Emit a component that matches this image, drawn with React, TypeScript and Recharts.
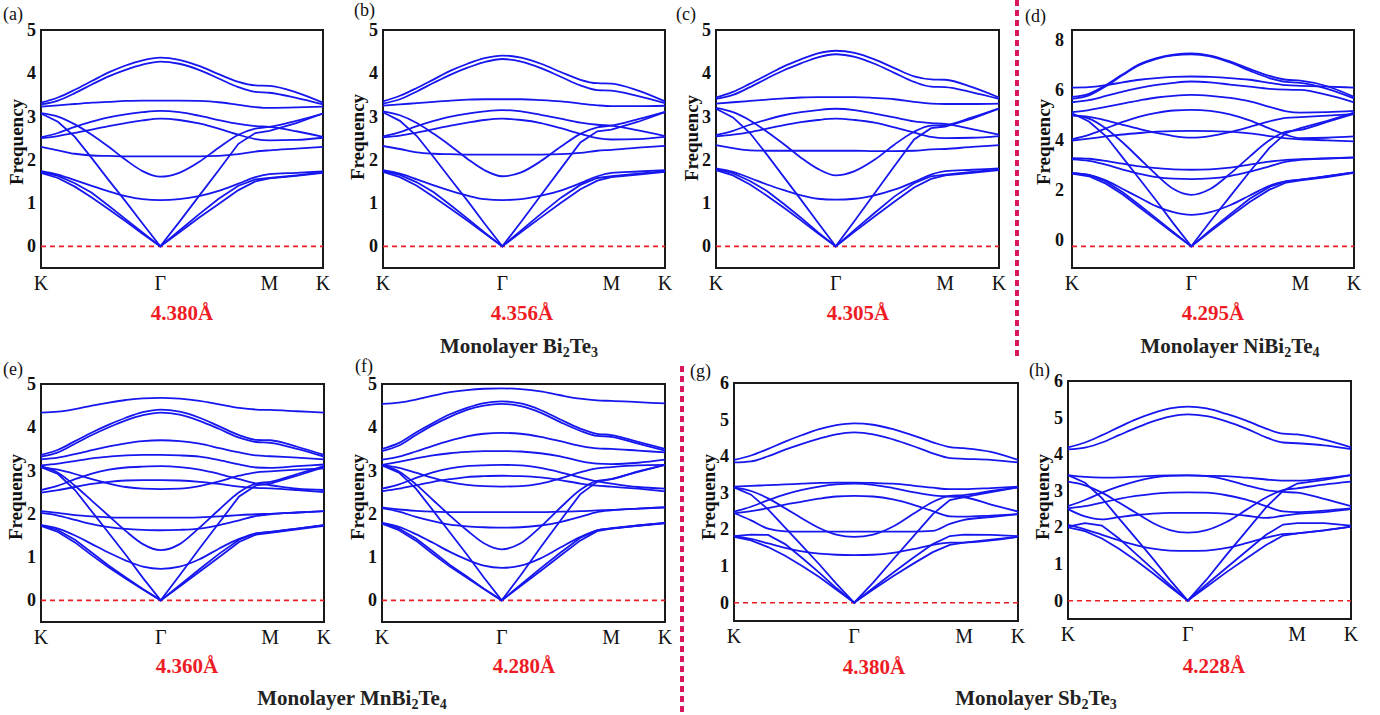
import React from 'react';
import { LineChart, Line, XAxis, YAxis, ReferenceLine, ReferenceArea } from 'recharts';

const SERIF = "'Liberation Serif', 'Times New Roman', serif";
const BLUE = '#1616ee';

// k-path sample positions (K -> Γ -> M -> K, normalised)
const K_PATH = [0, 0.06, 0.12, 0.18, 0.24, 0.3, 0.36, 0.423, 0.49, 0.56, 0.63, 0.7, 0.76, 0.81, 0.905, 1];
const K_TICKS = [0, 0.423, 0.81, 1];
const K_LABELS = ['K', 'Γ', 'M', 'K'];

// (a) Bi2Te3 4.380
const bandsA = [
  [3.32, 3.44, 3.62, 3.82, 4.02, 4.18, 4.3, 4.36, 4.31, 4.17, 3.98, 3.8, 3.72, 3.71, 3.56, 3.32],
  [3.28, 3.37, 3.54, 3.74, 3.93, 4.08, 4.2, 4.27, 4.22, 4.08, 3.88, 3.68, 3.57, 3.55, 3.43, 3.28],
  [3.23, 3.26, 3.29, 3.32, 3.34, 3.36, 3.37, 3.37, 3.37, 3.36, 3.33, 3.27, 3.22, 3.2, 3.21, 3.23],
  [2.52, 2.62, 2.76, 2.88, 2.98, 3.05, 3.1, 3.13, 3.1, 3.02, 2.92, 2.83, 2.78, 2.76, 2.66, 2.53],
  [2.5, 2.55, 2.62, 2.7, 2.78, 2.85, 2.91, 2.95, 2.92, 2.84, 2.72, 2.58, 2.48, 2.45, 2.46, 2.51],
  [2.3, 2.22, 2.14, 2.1, 2.09, 2.08, 2.08, 2.08, 2.08, 2.08, 2.09, 2.13, 2.19, 2.22, 2.26, 2.3],
  [3.08, 3.0, 2.82, 2.58, 2.3, 2.0, 1.74, 1.61, 1.7, 1.95, 2.28, 2.58, 2.72, 2.76, 2.9, 3.07],
  [3.07, 2.88, 2.53, 2.04, 1.53, 1.04, 0.53, 0, 0.56, 1.16, 1.76, 2.37, 2.62, 2.67, 2.85, 3.07],
  [1.74, 1.66, 1.53, 1.4, 1.27, 1.16, 1.09, 1.07, 1.09, 1.16, 1.28, 1.45, 1.6, 1.67, 1.7, 1.73],
  [1.72, 1.63, 1.46, 1.24, 0.94, 0.63, 0.32, 0, 0.36, 0.74, 1.1, 1.4, 1.55, 1.58, 1.64, 1.71],
  [1.7, 1.58, 1.38, 1.13, 0.86, 0.58, 0.29, 0, 0.32, 0.66, 0.98, 1.3, 1.5, 1.57, 1.63, 1.7],
];

// (b) Bi2Te3 4.356
const bandsB = [
  [3.35, 3.48, 3.66, 3.86, 4.06, 4.22, 4.35, 4.41, 4.36, 4.22, 4.03, 3.85, 3.77, 3.76, 3.6, 3.35],
  [3.3, 3.4, 3.58, 3.78, 3.97, 4.13, 4.26, 4.33, 4.27, 4.12, 3.92, 3.72, 3.61, 3.6, 3.47, 3.31],
  [3.25, 3.28, 3.31, 3.34, 3.37, 3.39, 3.4, 3.4, 3.4, 3.38, 3.35, 3.3, 3.26, 3.24, 3.24, 3.25],
  [2.54, 2.64, 2.78, 2.9, 3.0, 3.07, 3.12, 3.15, 3.12, 3.04, 2.95, 2.86, 2.81, 2.79, 2.68, 2.55],
  [2.52, 2.56, 2.63, 2.71, 2.79, 2.86, 2.92, 2.95, 2.92, 2.85, 2.73, 2.6, 2.5, 2.47, 2.48, 2.53],
  [2.32, 2.25, 2.17, 2.14, 2.13, 2.12, 2.12, 2.12, 2.12, 2.12, 2.13, 2.16, 2.21, 2.23, 2.28, 2.32],
  [3.12, 3.03, 2.85, 2.6, 2.32, 2.02, 1.76, 1.62, 1.71, 1.97, 2.3, 2.6, 2.75, 2.79, 2.94, 3.11],
  [3.1, 2.9, 2.55, 2.06, 1.55, 1.05, 0.53, 0, 0.57, 1.18, 1.79, 2.4, 2.66, 2.7, 2.88, 3.1],
  [1.76, 1.68, 1.55, 1.41, 1.28, 1.17, 1.09, 1.07, 1.09, 1.17, 1.29, 1.46, 1.62, 1.7, 1.73, 1.76],
  [1.74, 1.65, 1.48, 1.25, 0.95, 0.64, 0.32, 0, 0.37, 0.75, 1.12, 1.42, 1.58, 1.62, 1.68, 1.74],
  [1.72, 1.6, 1.4, 1.14, 0.87, 0.59, 0.3, 0, 0.33, 0.67, 1.0, 1.32, 1.52, 1.6, 1.66, 1.72],
];

// (c) Bi2Te3 4.305
const bandsC = [
  [3.44, 3.57, 3.76, 3.96, 4.16, 4.32, 4.46, 4.52, 4.47, 4.32, 4.12, 3.93, 3.86, 3.85, 3.68, 3.44],
  [3.41, 3.5, 3.68, 3.88, 4.07, 4.23, 4.37, 4.44, 4.38, 4.22, 4.01, 3.8, 3.69, 3.68, 3.56, 3.41],
  [3.3, 3.33, 3.36, 3.39, 3.42, 3.44, 3.45, 3.45, 3.45, 3.43, 3.4, 3.34, 3.3, 3.29, 3.29, 3.3],
  [2.57, 2.67, 2.81, 2.93, 3.03, 3.1, 3.15, 3.18, 3.15, 3.07, 2.98, 2.89, 2.85, 2.83, 2.71, 2.58],
  [2.54, 2.58, 2.64, 2.72, 2.8, 2.87, 2.92, 2.95, 2.92, 2.86, 2.75, 2.63, 2.53, 2.5, 2.51, 2.55],
  [2.34, 2.27, 2.22, 2.21, 2.21, 2.21, 2.21, 2.21, 2.21, 2.2, 2.2, 2.21, 2.24, 2.25, 2.3, 2.34],
  [3.2, 3.1, 2.91, 2.65, 2.36, 2.05, 1.79, 1.64, 1.74, 2.0, 2.35, 2.65, 2.79, 2.8, 2.98, 3.19],
  [3.18, 2.98, 2.62, 2.12, 1.6, 1.08, 0.55, 0, 0.59, 1.22, 1.85, 2.47, 2.73, 2.77, 2.95, 3.18],
  [1.8, 1.72, 1.58, 1.43, 1.3, 1.18, 1.1, 1.08, 1.1, 1.18, 1.31, 1.49, 1.66, 1.74, 1.77, 1.8],
  [1.78, 1.69, 1.51, 1.28, 0.98, 0.66, 0.33, 0, 0.38, 0.77, 1.15, 1.46, 1.62, 1.66, 1.72, 1.78],
  [1.76, 1.64, 1.43, 1.17, 0.89, 0.6, 0.3, 0, 0.34, 0.69, 1.03, 1.36, 1.56, 1.64, 1.7, 1.76],
];

// (d) NiBi2Te4 4.295 (values on the tick-mark scale)
const bandsD = [
  [6.91, 7.05, 7.45, 7.95, 8.42, 8.7, 8.86, 8.92, 8.82, 8.55, 8.2, 7.88, 7.7, 7.66, 7.4, 6.91],
  [6.82, 6.98, 7.4, 7.92, 8.38, 8.67, 8.83, 8.88, 8.78, 8.5, 8.12, 7.78, 7.6, 7.56, 7.28, 6.84],
  [7.34, 7.36, 7.45, 7.58, 7.7, 7.78, 7.83, 7.85, 7.83, 7.78, 7.7, 7.56, 7.45, 7.42, 7.38, 7.34],
  [6.66, 6.76, 6.95, 7.15, 7.32, 7.46, 7.56, 7.62, 7.58, 7.48, 7.38, 7.28, 7.24, 7.23, 7.0, 6.66],
  [6.2, 6.3, 6.45, 6.6, 6.75, 6.88, 6.96, 7.0, 6.96, 6.86, 6.7, 6.45, 6.24, 6.18, 6.2, 6.26],
  [4.95, 5.15, 5.45, 5.75, 6.0, 6.17, 6.28, 6.31, 6.26, 6.1, 5.82, 5.45, 5.15, 5.0, 5.02, 5.08],
  [4.89, 4.98, 5.08, 5.17, 5.24, 5.3, 5.33, 5.34, 5.33, 5.3, 5.22, 5.1, 4.99, 4.95, 4.9, 4.85],
  [6.05, 5.98, 5.82, 5.62, 5.42, 5.24, 5.1, 5.03, 5.1, 5.28, 5.52, 5.78, 5.94, 5.97, 6.04, 6.11],
  [4.08, 4.05, 3.95, 3.82, 3.7, 3.62, 3.56, 3.54, 3.56, 3.64, 3.78, 3.92, 4.0, 4.03, 4.07, 4.11],
  [4.02, 3.95, 3.78, 3.55, 3.35, 3.2, 3.13, 3.11, 3.14, 3.25, 3.45, 3.7, 3.92, 4.0, 4.06, 4.1],
  [6.05, 5.9, 5.45, 4.8, 4.05, 3.3, 2.65, 2.38, 2.65, 3.35, 4.15, 4.9, 5.3, 5.38, 5.75, 6.12],
  [6.15, 5.77, 5.1, 4.1, 3.1, 2.1, 1.05, 0, 1.15, 2.3, 3.45, 4.55, 5.25, 5.46, 5.8, 6.18],
  [3.38, 3.3, 3.05, 2.65, 2.25, 1.85, 1.58, 1.46, 1.58, 1.9, 2.35, 2.8, 3.02, 3.08, 3.24, 3.42],
  [3.4, 3.3, 3.0, 2.5, 1.9, 1.28, 0.66, 0, 0.75, 1.48, 2.2, 2.75, 3.0, 3.08, 3.25, 3.42],
  [3.36, 3.24, 2.9, 2.4, 1.8, 1.2, 0.6, 0, 0.68, 1.38, 2.05, 2.62, 2.95, 3.05, 3.2, 3.4],
];

// (e) MnBi2Te4 4.360
const bandsE = [
  [4.34, 4.36, 4.42, 4.5, 4.57, 4.63, 4.67, 4.68, 4.66, 4.61, 4.53, 4.45, 4.41, 4.4, 4.37, 4.34],
  [3.36, 3.48, 3.68, 3.88, 4.06, 4.22, 4.35, 4.41, 4.36, 4.22, 4.02, 3.82, 3.71, 3.7, 3.55, 3.36],
  [3.32, 3.42, 3.62, 3.82, 4.0, 4.16, 4.28, 4.34, 4.29, 4.15, 3.96, 3.76, 3.66, 3.64, 3.5, 3.32],
  [3.26, 3.3, 3.38, 3.47, 3.56, 3.63, 3.68, 3.7, 3.68, 3.62, 3.52, 3.42, 3.35, 3.33, 3.3, 3.26],
  [3.12, 3.16, 3.22, 3.28, 3.32, 3.35, 3.36, 3.36, 3.35, 3.32, 3.24, 3.14, 3.07, 3.06, 3.1, 3.14],
  [2.55, 2.65, 2.8, 2.93, 3.02, 3.07, 3.09, 3.1, 3.08, 3.02, 2.92, 2.8, 2.7, 2.66, 2.58, 2.55],
  [2.49, 2.55, 2.62, 2.69, 2.74, 2.77, 2.78, 2.78, 2.77, 2.74, 2.69, 2.63, 2.6, 2.59, 2.55, 2.5],
  [3.08, 3.02, 2.92, 2.8, 2.7, 2.62, 2.58, 2.57, 2.58, 2.64, 2.75, 2.88, 2.96, 2.98, 3.02, 3.05],
  [2.06, 2.02, 1.97, 1.94, 1.92, 1.91, 1.91, 1.91, 1.91, 1.92, 1.94, 1.97, 1.99, 2.0, 2.03, 2.06],
  [2.02, 1.96, 1.86, 1.76, 1.69, 1.65, 1.63, 1.62, 1.63, 1.66, 1.74, 1.85, 1.95, 1.99, 2.03, 2.06],
  [3.1, 2.95, 2.65, 2.3, 1.95, 1.6, 1.3, 1.16, 1.3, 1.68, 2.1, 2.5, 2.7, 2.74, 2.92, 3.1],
  [3.08, 2.92, 2.55, 2.05, 1.55, 1.05, 0.52, 0, 0.58, 1.2, 1.8, 2.4, 2.66, 2.7, 2.88, 3.08],
  [1.74, 1.66, 1.5, 1.3, 1.1, 0.92, 0.78, 0.73, 0.78, 0.95, 1.2, 1.42, 1.55, 1.58, 1.66, 1.74],
  [1.74, 1.62, 1.4, 1.1, 0.8, 0.53, 0.26, 0, 0.35, 0.72, 1.08, 1.4, 1.55, 1.58, 1.66, 1.74],
  [1.72, 1.58, 1.34, 1.04, 0.76, 0.5, 0.25, 0, 0.32, 0.66, 1.0, 1.35, 1.52, 1.56, 1.64, 1.72],
];

// (f) MnBi2Te4 4.280
const bandsF = [
  [4.54, 4.57, 4.64, 4.73, 4.81, 4.86, 4.89, 4.9, 4.88, 4.83, 4.74, 4.66, 4.62, 4.61, 4.58, 4.55],
  [3.5, 3.64, 3.88, 4.1, 4.3, 4.45, 4.56, 4.6, 4.55, 4.4, 4.18, 3.97, 3.85, 3.82, 3.66, 3.5],
  [3.45, 3.58, 3.82, 4.05, 4.24, 4.4, 4.5, 4.54, 4.49, 4.34, 4.12, 3.92, 3.8, 3.78, 3.62, 3.46],
  [3.25, 3.32, 3.44, 3.57, 3.69, 3.79, 3.85, 3.87, 3.85, 3.78, 3.68, 3.57, 3.51, 3.5, 3.46, 3.42],
  [3.13, 3.2, 3.28, 3.35, 3.4, 3.43, 3.45, 3.45, 3.44, 3.4, 3.33, 3.22, 3.16, 3.15, 3.18, 3.25],
  [2.58, 2.68, 2.83, 2.96, 3.05, 3.1, 3.12, 3.13, 3.12, 3.06, 2.96, 2.84, 2.75, 2.7, 2.62, 2.58],
  [2.52, 2.58, 2.66, 2.74, 2.8, 2.85, 2.87, 2.88, 2.87, 2.84, 2.78, 2.7, 2.65, 2.63, 2.58, 2.52],
  [3.13, 3.06, 2.95, 2.83, 2.73, 2.67, 2.64, 2.63, 2.64, 2.7, 2.82, 2.96, 3.05, 3.08, 3.12, 3.13],
  [2.15, 2.1, 2.07, 2.05, 2.04, 2.04, 2.04, 2.04, 2.04, 2.04, 2.05, 2.06, 2.08, 2.09, 2.12, 2.15],
  [2.13, 2.05, 1.93, 1.83, 1.75, 1.71, 1.69, 1.68, 1.69, 1.73, 1.81, 1.93, 2.04, 2.08, 2.12, 2.15],
  [3.13, 2.98, 2.68, 2.32, 1.96, 1.62, 1.32, 1.18, 1.32, 1.7, 2.14, 2.55, 2.76, 2.8, 2.98, 3.13],
  [3.12, 2.95, 2.58, 2.08, 1.57, 1.06, 0.53, 0, 0.58, 1.22, 1.84, 2.45, 2.74, 2.8, 2.97, 3.13],
  [1.79, 1.7, 1.53, 1.33, 1.12, 0.94, 0.8, 0.75, 0.8, 0.97, 1.22, 1.46, 1.62, 1.66, 1.73, 1.79],
  [1.79, 1.66, 1.43, 1.13, 0.82, 0.55, 0.27, 0, 0.36, 0.74, 1.1, 1.44, 1.62, 1.67, 1.73, 1.79],
  [1.77, 1.62, 1.38, 1.07, 0.78, 0.52, 0.26, 0, 0.33, 0.68, 1.03, 1.38, 1.6, 1.66, 1.72, 1.78],
];

// (g) Sb2Te3 4.380
const bandsG = [
  [3.9, 4.02, 4.2, 4.4, 4.58, 4.74, 4.85, 4.9, 4.86, 4.74, 4.57, 4.38, 4.25, 4.22, 4.12, 3.9],
  [3.83, 3.86, 4.0, 4.18, 4.34, 4.48, 4.6, 4.65, 4.6, 4.46, 4.28, 4.08, 3.95, 3.93, 3.9, 3.83],
  [3.17, 3.19, 3.21, 3.23, 3.25, 3.27, 3.28, 3.28, 3.27, 3.25, 3.2, 3.14, 3.1, 3.1, 3.13, 3.17],
  [2.49, 2.62, 2.8, 2.96, 3.08, 3.17, 3.23, 3.25, 3.22, 3.13, 3.02, 2.93, 2.9, 2.88, 2.68, 2.49],
  [2.44, 2.5, 2.58, 2.68, 2.76, 2.84, 2.9, 2.92, 2.9, 2.82, 2.68, 2.5, 2.36, 2.35, 2.38, 2.42],
  [2.45, 2.25, 2.02, 1.95, 1.94, 1.94, 1.94, 1.94, 1.94, 1.94, 1.94, 1.96, 2.15, 2.26, 2.34, 2.42],
  [3.15, 3.05, 2.85, 2.58, 2.3, 2.04, 1.86, 1.8, 1.86, 2.08, 2.42, 2.75, 2.92, 2.94, 3.05, 3.15],
  [3.15, 2.95, 2.55, 2.05, 1.55, 1.05, 0.52, 0, 0.55, 1.18, 1.8, 2.42, 2.8, 2.88, 3.02, 3.15],
  [1.82, 1.74, 1.62, 1.5, 1.4, 1.34, 1.31, 1.3, 1.31, 1.36, 1.46, 1.58, 1.64, 1.64, 1.7, 1.8],
  [1.82, 1.86, 1.85, 1.6, 1.22, 0.82, 0.4, 0, 0.4, 0.82, 1.22, 1.6, 1.82, 1.86, 1.85, 1.82],
  [1.8, 1.7, 1.52, 1.28, 1.0, 0.7, 0.36, 0, 0.36, 0.72, 1.06, 1.38, 1.58, 1.64, 1.72, 1.8],
];

// (h) Sb2Te3 4.228
const bandsH = [
  [4.19, 4.32, 4.52, 4.74, 4.95, 5.12, 5.25, 5.3, 5.25, 5.1, 4.92, 4.7, 4.56, 4.54, 4.4, 4.19],
  [4.13, 4.18, 4.32, 4.52, 4.72, 4.9, 5.03, 5.09, 5.04, 4.9, 4.7, 4.46, 4.32, 4.3, 4.24, 4.14],
  [3.43, 3.38, 3.36, 3.37, 3.39, 3.41, 3.42, 3.42, 3.41, 3.4, 3.36, 3.31, 3.28, 3.28, 3.34, 3.43],
  [2.58, 2.75, 2.95, 3.12, 3.26, 3.36, 3.41, 3.42, 3.4, 3.3, 3.15, 3.02, 2.97, 2.95, 2.78, 2.58],
  [2.52, 2.58, 2.68, 2.78, 2.86, 2.92, 2.95, 2.96, 2.95, 2.88, 2.76, 2.58, 2.44, 2.42, 2.46, 2.52],
  [2.5, 2.3, 2.22, 2.28, 2.34, 2.38, 2.4, 2.4, 2.4, 2.38, 2.32, 2.26, 2.32, 2.37, 2.42, 2.5],
  [3.25, 3.15, 2.95, 2.68, 2.4, 2.12, 1.93, 1.86, 1.93, 2.15, 2.48, 2.82, 3.02, 3.07, 3.17, 3.25],
  [3.43, 3.22, 2.8, 2.25, 1.7, 1.15, 0.57, 0, 0.58, 1.25, 1.9, 2.55, 3.0, 3.2, 3.3, 3.43],
  [2.07, 1.95, 1.8, 1.65, 1.52, 1.42, 1.37, 1.36, 1.37, 1.44, 1.57, 1.72, 1.82, 1.84, 1.92, 2.02],
  [2.02, 2.12, 2.05, 1.7, 1.28, 0.86, 0.43, 0, 0.45, 0.9, 1.35, 1.8, 2.08, 2.12, 2.12, 2.05],
  [2.0, 1.9, 1.7, 1.42, 1.1, 0.75, 0.38, 0, 0.38, 0.78, 1.15, 1.52, 1.78, 1.84, 1.92, 2.02],
];

const TICKS_5 = [-0.5, 0, 0.5, 1, 1.5, 2, 2.5, 3, 3.5, 4, 4.5, 5];
const TICKS_6 = [-0.5, 0, 0.5, 1, 1.5, 2, 2.5, 3, 3.5, 4, 4.5, 5, 5.5, 6];
const TICKS_10 = [-1, 0, 1, 2, 3, 4, 5, 6, 7, 8, 9, 10];
const LABELS_5 = [0, 1, 2, 3, 4, 5];
const LABELS_6 = [0, 1, 2, 3, 4, 5, 6];
const LABELS_8 = [0, 2, 4, 6, 8];

const AXIS_W = 40;
const TOP_PAD = 10;
const X_AXIS_H = 34;

type PanelProps = {
  left: number; top: number; w: number; h: number;
  bands: number[][];
  domain: [number, number]; ticks: number[];
  labelDomain: [number, number]; labelTicks: number[];
  labelGap: number;
};

const Panel = ({ left, top, w, h, bands, domain, ticks, labelDomain, labelTicks, labelGap }: PanelProps) => {
  const rows = K_PATH.map((k, i) => {
    const row: Record<string, number> = { k };
    bands.forEach((b, j) => { row['b' + j] = b[i]; });
    return row;
  });

  const markTick = (props: any) => (
    <line x1={AXIS_W} x2={AXIS_W + 4} y1={props.y} y2={props.y} stroke="#222" strokeWidth={1.2} />
  );
  const labelTick = (props: any) => (
    <text x={props.x} y={props.y} dy={6} textAnchor="end" fontSize={18} fontWeight="bold"
      fontFamily={SERIF} fill="#111">{props.payload.value}</text>
  );

  return (
    <div style={{ position: 'absolute', left: left - AXIS_W, top: top - TOP_PAD }}>
      <LineChart width={w + AXIS_W + 12} height={h + TOP_PAD + X_AXIS_H} data={rows}
        margin={{ top: TOP_PAD, right: 12, bottom: 0, left: 0 }}>
        <XAxis dataKey="k" type="number" domain={[0, 1]} ticks={K_TICKS} interval={0}
          tickFormatter={(v: number) => K_LABELS[K_TICKS.indexOf(v)]}
          axisLine={false} tickLine={false} tickSize={0} tickMargin={8} height={X_AXIS_H}
          tick={{ fontSize: 20, fill: '#111', fontFamily: SERIF }} />
        <YAxis yAxisId="f" type="number" domain={domain} ticks={ticks} allowDataOverflow
          width={0} axisLine={false} tickLine={false} tickSize={0} tickMargin={0} tick={markTick} />
        <YAxis yAxisId="lbl" type="number" domain={labelDomain} ticks={labelTicks} allowDataOverflow
          width={AXIS_W} axisLine={false} tickLine={false} tickSize={0} tickMargin={labelGap} tick={labelTick} />
        <ReferenceLine yAxisId="f" y={0} stroke="#ee1c25" strokeWidth={1.6} strokeDasharray="5 4" />
        {bands.map((b, j) => (
          <Line key={j} yAxisId="f" dataKey={'b' + j} type={b[7] === 0 ? 'linear' : 'monotone'}
            stroke={BLUE} strokeWidth={1.8} dot={false} isAnimationActive={false} />
        ))}
        <ReferenceArea yAxisId="f" x1={0} x2={1} y1={domain[0]} y2={domain[1]} ifOverflow="visible"
          fill="none" fillOpacity={0} stroke="#1a1a1a" strokeWidth={2} />
      </LineChart>
    </div>
  );
};

const txt = (extra: React.CSSProperties): React.CSSProperties => ({
  position: 'absolute', fontFamily: SERIF, color: '#111', whiteSpace: 'nowrap', lineHeight: 1, ...extra,
});

const Letter = ({ x, y, s }: { x: number; y: number; s: string }) => (
  <div style={txt({ left: x, top: y, fontSize: 18 })}>{s}</div>
);

const Freq = ({ x, y }: { x: number; y: number }) => (
  <div style={txt({ left: x, top: y, fontSize: 19, fontWeight: 'bold', transform: 'translate(-50%, -50%) rotate(-90deg)' })}>
    Frequency
  </div>
);

const Lattice = ({ x, y, s }: { x: number; y: number; s: string }) => (
  <div style={txt({ left: x, top: y, fontSize: 21, fontWeight: 'bold', color: '#ee1c25', transform: 'translate(-50%, -50%)' })}>
    {s}
  </div>
);

const subStyle: React.CSSProperties = { fontSize: 14, verticalAlign: -4, lineHeight: 0 };

const Caption = ({ x, y, children }: { x: number; y: number; children: React.ReactNode }) => (
  <div style={txt({ left: x, top: y, fontSize: 21, fontWeight: 'bold', color: '#222', transform: 'translate(-50%, -50%)' })}>
    {children}
  </div>
);

export default function App() {
  const top5: [number, number] = [-0.5, 5];
  const top6: [number, number] = [-0.5, 6];
  return (
    <div style={{ position: 'absolute', left: 0, top: 0, width: 1380, height: 715, background: '#fff', overflow: 'hidden' }}>
      <Panel left={41} top={30} w={282} h={238} bands={bandsA} domain={top5} ticks={TICKS_5}
        labelDomain={top5} labelTicks={LABELS_5} labelGap={5} />
      <Panel left={383} top={30} w={282} h={238} bands={bandsB} domain={top5} ticks={TICKS_5}
        labelDomain={top5} labelTicks={LABELS_5} labelGap={5} />
      <Panel left={716} top={30} w={283} h={238} bands={bandsC} domain={top5} ticks={TICKS_5}
        labelDomain={top5} labelTicks={LABELS_5} labelGap={5} />
      <Panel left={1072} top={30} w={282} h={238} bands={bandsD} domain={[-1, 10]} ticks={TICKS_10}
        labelDomain={[-1.13, 8.4]} labelTicks={LABELS_8} labelGap={8} />
      <Panel left={41} top={384} w={283} h={238} bands={bandsE} domain={top5} ticks={TICKS_5}
        labelDomain={top5} labelTicks={LABELS_5} labelGap={5} />
      <Panel left={382} top={384} w={283} h={238} bands={bandsF} domain={top5} ticks={TICKS_5}
        labelDomain={top5} labelTicks={LABELS_5} labelGap={5} />
      <Panel left={734} top={383} w={284} h={238} bands={bandsG} domain={top6} ticks={TICKS_6}
        labelDomain={top6} labelTicks={LABELS_6} labelGap={5} />
      <Panel left={1068} top={381} w={283} h={238} bands={bandsH} domain={top6} ticks={TICKS_6}
        labelDomain={top6} labelTicks={LABELS_6} labelGap={5} />

      <Letter x={3} y={5} s="(a)" />
      <Letter x={354} y={1} s="(b)" />
      <Letter x={676} y={5} s="(c)" />
      <Letter x={1025} y={7} s="(d)" />
      <Letter x={3} y={360} s="(e)" />
      <Letter x={355} y={357} s="(f)" />
      <Letter x={690} y={362} s="(g)" />
      <Letter x={1029} y={361} s="(h)" />

      <Freq x={16} y={142} />
      <Freq x={357} y={137} />
      <Freq x={691} y={138} />
      <Freq x={1043} y={142} />
      <Freq x={15} y={497} />
      <Freq x={357} y={497} />
      <Freq x={708} y={497} />
      <Freq x={1042} y={497} />

      <Lattice x={182} y={313} s="4.380Å" />
      <Lattice x={522} y={313} s="4.356Å" />
      <Lattice x={858} y={313} s="4.305Å" />
      <Lattice x={1213} y={313} s="4.295Å" />
      <Lattice x={187} y={666} s="4.360Å" />
      <Lattice x={524} y={666} s="4.280Å" />
      <Lattice x={874} y={667} s="4.380Å" />
      <Lattice x={1214} y={666} s="4.228Å" />

      <Caption x={519} y={346}>Monolayer Bi<sub style={subStyle}>2</sub>Te<sub style={subStyle}>3</sub></Caption>
      <Caption x={1230} y={346}>Monolayer NiBi<sub style={subStyle}>2</sub>Te<sub style={subStyle}>4</sub></Caption>
      <Caption x={352} y={698}>Monolayer MnBi<sub style={subStyle}>2</sub>Te<sub style={subStyle}>4</sub></Caption>
      <Caption x={1036} y={698}>Monolayer Sb<sub style={subStyle}>2</sub>Te<sub style={subStyle}>3</sub></Caption>

      <svg width={1380} height={715} style={{ position: 'absolute', left: 0, top: 0, pointerEvents: 'none' }}>
        <line x1={1017} x2={1017} y1={0} y2={356} stroke="#d8175f" strokeWidth={4} strokeDasharray="6 4" />
        <line x1={682} x2={682} y1={366} y2={715} stroke="#d8175f" strokeWidth={4} strokeDasharray="6 4" />
      </svg>
    </div>
  );
}
